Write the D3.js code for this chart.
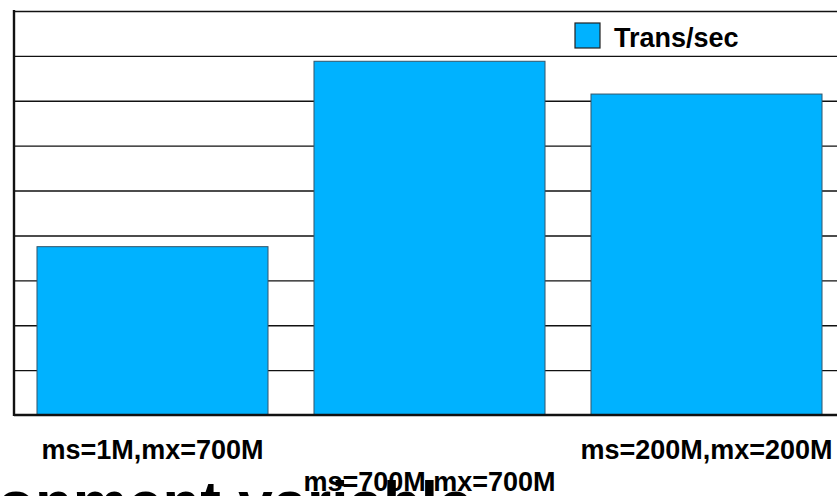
<!DOCTYPE html>
<html>
<head>
<meta charset="utf-8">
<script src="https://cdn.jsdelivr.net/npm/d3@7"></script>
<style>
  html, body { margin: 0; padding: 0; background: #fff; overflow: hidden; }
  svg { display: block; }
  text { font-family: "Liberation Sans", Arial, Helvetica, sans-serif; font-weight: bold; fill: #000; }
</style>
</head>
<body>
<script>
// Heap settings compared (ms = initial heap, mx = maximum heap)
const categories = ["ms=1M,mx=700M", "ms=700M,mx=700M", "ms=200M,mx=200M"];
const transPerSec = [375, 788, 715];
const seriesName = "Trans/sec";
const yMax = 900;
const yStep = 100;
const slideTitle = "Environment variable";

const W = 837, H = 496;
const plot = { left: 14, right: 845, top: 11, bottom: 415 };
const barColor = "#00b2ff";

const svg = d3.select("body").append("svg")
  .attr("width", W).attr("height", H);

const x = d3.scaleBand()
  .domain(categories)
  .range([plot.left, plot.right])
  .paddingInner(0.166)
  .paddingOuter(0.083);

const y = d3.scaleLinear()
  .domain([0, yMax])
  .range([plot.bottom, plot.top]);

// Horizontal gridlines (no tick labels in view)
const grid = svg.append("g")
  .attr("transform", `translate(${plot.left},0)`)
  .call(d3.axisLeft(y)
    .tickValues(d3.range(yStep, yMax + 1, yStep))
    .tickSize(-(plot.right - plot.left))
    .tickFormat(""));
grid.select(".domain").remove();
grid.selectAll(".tick line")
  .attr("stroke", "#111")
  .attr("stroke-width", 1.4);

// Bars
svg.append("g").selectAll("rect")
  .data(transPerSec)
  .join("rect")
  .attr("x", (d, i) => x(categories[i]))
  .attr("y", d => y(d))
  .attr("width", x.bandwidth())
  .attr("height", d => y(0) - y(d))
  .attr("fill", barColor)
  .attr("stroke", "#33556a")
  .attr("stroke-width", 1);

// Axis lines
svg.append("line")
  .attr("x1", plot.left).attr("x2", plot.left)
  .attr("y1", plot.top - 1).attr("y2", plot.bottom + 1)
  .attr("stroke", "#111").attr("stroke-width", 2.4);
svg.append("line")
  .attr("x1", plot.left).attr("x2", plot.right)
  .attr("y1", y(0)).attr("y2", y(0))
  .attr("stroke", "#111").attr("stroke-width", 2.4);

// Slide heading running underneath the chart
svg.append("text")
  .attr("x", -158).attr("y", 524)
  .style("font-size", "62px")
  .text(slideTitle);

// Category labels, staggered on two rows
svg.append("g").selectAll("text")
  .data(categories)
  .join("text")
  .attr("x", d => x(d) + x.bandwidth() / 2)
  .attr("y", (d, i) => i % 2 === 0 ? 459 : 491)
  .attr("text-anchor", "middle")
  .style("font-size", "27px")
  .text(d => d);

// Legend
const legend = svg.append("g").attr("transform", "translate(575,23)");
legend.append("rect")
  .attr("width", 25).attr("height", 25)
  .attr("fill", barColor)
  .attr("stroke", "#222").attr("stroke-width", 1.2);
legend.append("text")
  .attr("x", 39).attr("y", 24)
  .style("font-size", "27px")
  .text(seriesName);
</script>
</body>
</html>
